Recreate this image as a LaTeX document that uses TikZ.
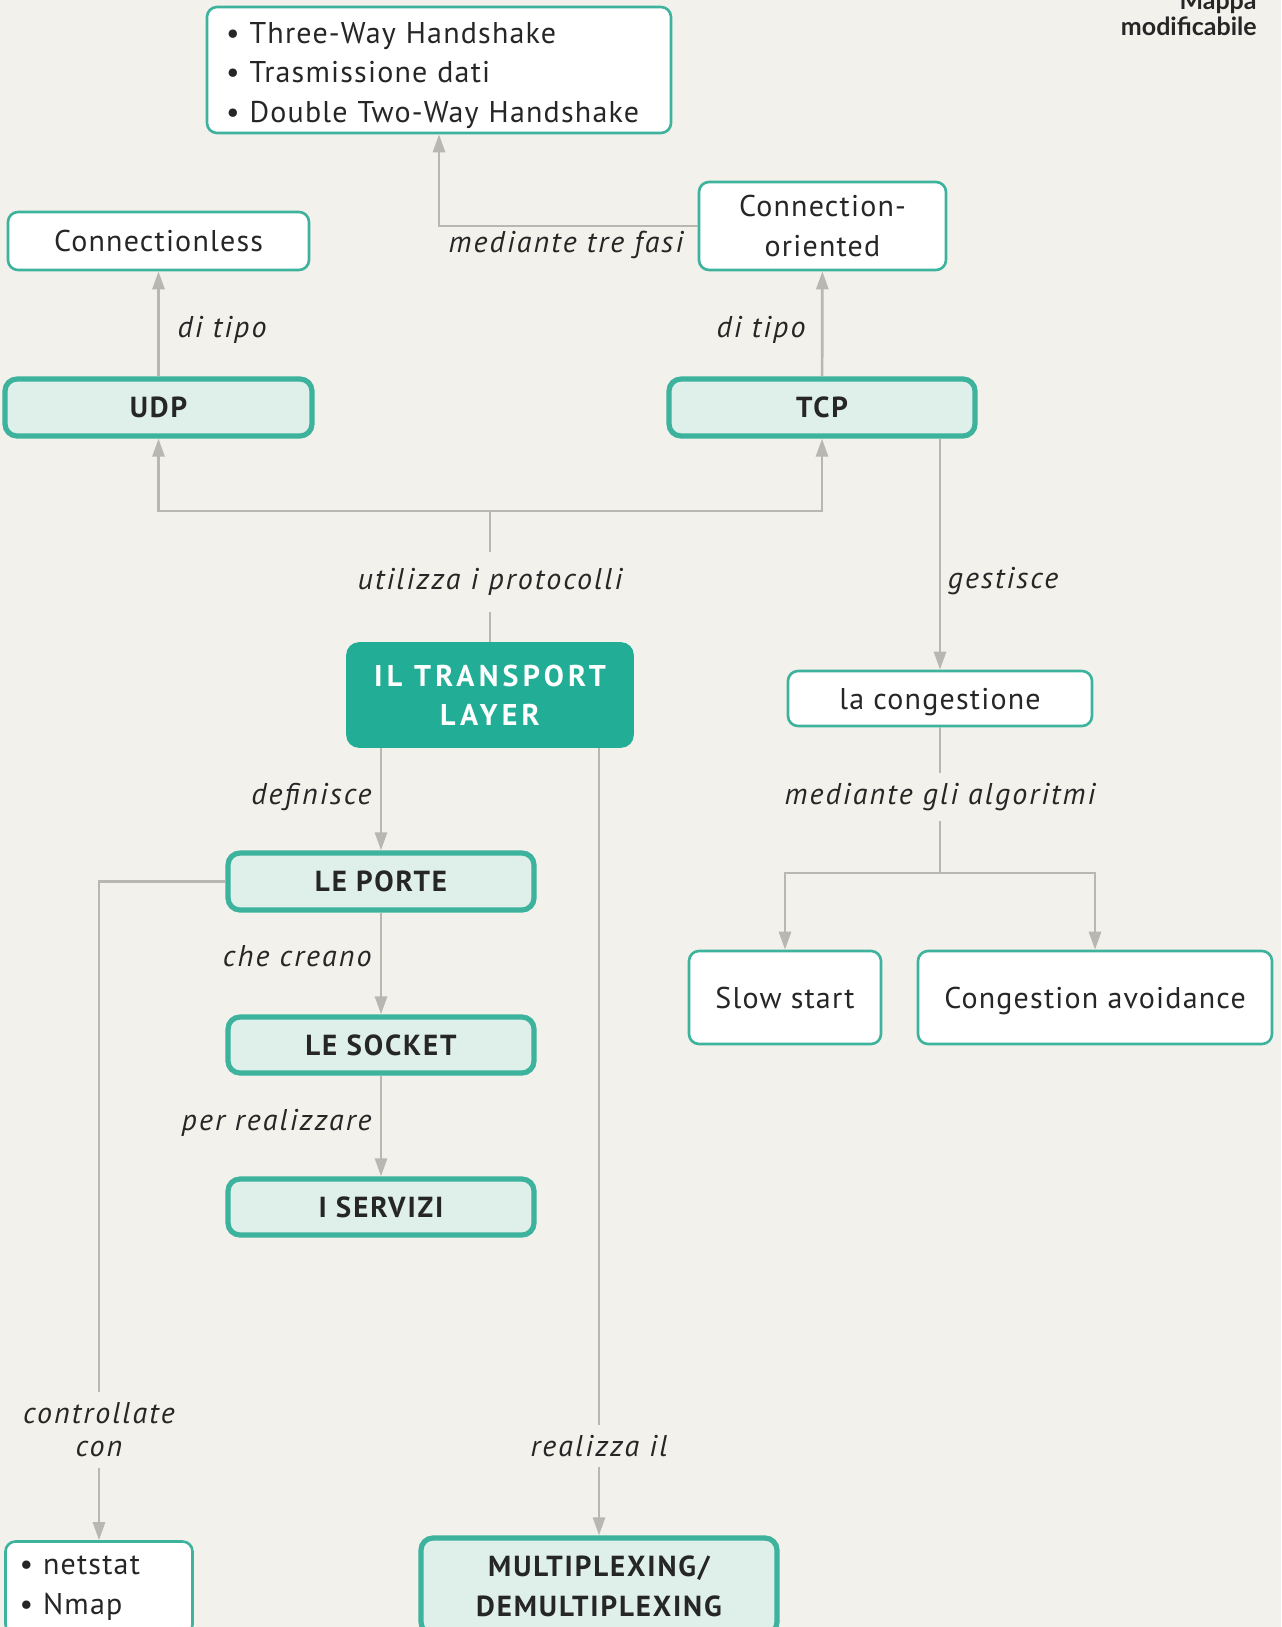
\documentclass[tikz,border=0pt]{standalone}
\usepackage{fontspec}
\setmainfont{PT Sans}[LetterSpace=4]
\newfontfamily\tagfont{Lato}
\usetikzlibrary{arrows.meta}

\definecolor{paper}{HTML}{F2F1EB}
\definecolor{mapteal}{HTML}{3DB39E}
\definecolor{tealfill}{HTML}{22AE96}
\definecolor{mint}{HTML}{DFF0EB}
\definecolor{wire}{HTML}{B8B8B1}
\definecolor{ink}{HTML}{262626}

\begin{document}
\begin{tikzpicture}[x=0.5pt, y=-0.5pt,
  plain/.style={font=\fontsize{15}{19.7}\selectfont, text=ink, draw=mapteal, fill=white, line width=1.3pt, rounded corners=5pt, align=center, inner sep=0pt},
  oneline/.style={text height=10.5pt, text depth=0pt},
  key/.style={font=\fontsize{14.5}{20}\selectfont\bfseries\addfontfeature{LetterSpace=6.5}, text=ink, draw=mapteal, fill=mint, line width=2.6pt, rounded corners=6pt, align=center, inner sep=0pt},
  lbl/.style={font=\fontsize{15}{16.5}\selectfont\itshape\addfontfeature{LetterSpace=7}, text=ink, align=center, inner sep=5pt},
  conn/.style={wire, line width=1.35pt},
  arr/.style={conn, -{Triangle[length=9pt,width=6pt]}}]
\fill[paper] (0,0) rectangle (1281,1627);
\useasboundingbox (0,0) rectangle (1281,1627);

\node[anchor=south east, inner sep=0pt, align=right, text=ink, font=\tagfont\bfseries\fontsize{12.5}{13}\selectfont] (mappa) at (1257,36) {Mappa\\modificabile};

% boxes
\node[plain, minimum width=232pt, minimum height=63pt, inner xsep=9.5pt, text width=213pt, align=left] (fasi) at (439,70) {\rule{0pt}{16pt}\textbullet\ Three-Way Handshake\\\textbullet\ Trasmissione dati\\\textbullet\ Double Two-Way Handshake};
\node[plain, oneline, minimum width=150.5pt, minimum height=29pt] (cless) at (158.5,241) {Connectionless};
\node[plain, minimum width=123.5pt, minimum height=44pt, font=\fontsize{15}{20}\selectfont] (cori) at (822.5,226) {Connection-\\oriented};
\node[key, minimum width=153.5pt, minimum height=28.5pt] (udp) at (158.5,407.5) {UDP};
\node[key, minimum width=153pt, minimum height=28.5pt] (tcp) at (822,407.5) {TCP};
\node[key, minimum width=143pt, minimum height=52pt, fill=tealfill, draw=tealfill, line width=0.8pt, text=white, font=\fontsize{15}{19.7}\selectfont\bfseries\addfontfeature{LetterSpace=14}] (tl) at (490,695) {IL TRANSPORT\\LAYER};
\node[plain, oneline, minimum width=152pt, minimum height=27.5pt] (cong) at (940,698.5) {la congestione};
\node[plain, oneline, minimum width=96pt, minimum height=46.5pt] (slow) at (785,997.5) {Slow start};
\node[plain, oneline, minimum width=177pt, minimum height=46.5pt] (cavoid) at (1095,997.5) {Congestion avoidance};
\node[key, minimum width=153pt, minimum height=28.5pt] (porte) at (381,881.5) {LE PORTE};
\node[key, minimum width=153pt, minimum height=28pt] (socket) at (381,1045) {LE SOCKET};
\node[key, minimum width=153pt, minimum height=28pt] (servizi) at (381,1207) {I SERVIZI};
\node[plain, minimum width=93.5pt, minimum height=46.5pt, inner xsep=7pt, text width=79.5pt, align=left, font=\fontsize{15}{20}\selectfont] (tools) at (99,1588) {\textbullet\ netstat\\\textbullet\ Nmap};
\node[key, minimum width=178pt, minimum height=48pt] (mux) at (599,1586) {MULTIPLEXING/\\DEMULTIPLEXING};

% link labels
\node[lbl] (tre) at (566,245) {mediante tre fasi};
\node[lbl] (tipo1) at (222,330) {di tipo};
\node[lbl] (tipo2) at (761,330) {di tipo};
\node[lbl, inner ysep=8pt] (uso) at (490,582) {utilizza i protocolli};
\node[lbl] (gest) at (1003,581) {gestisce};
\node[lbl, anchor=east] (def) at (382,797) {definisce};
\node[lbl] (algo) at (940,797) {mediante gli algoritmi};
\node[lbl, anchor=east] (crea) at (382,956) {che creano};
\node[lbl, anchor=east] (perr) at (382,1123) {per realizzare};
\node[lbl] (ctrl) at (99,1430) {controllate\\con};
\node[lbl] (real) at (599,1446) {realizza il};

% connectors
\draw[arr] (udp) -- (cless);
\draw[arr] (tcp) -- (cori);
\draw[arr] (cori.west) -| (fasi.south);
\coordinate (fork) at (490,511);
\draw[conn] (tl) -- (uso);
\draw[conn] (uso) -- (fork);
\draw[arr] (fork) -| (udp.south);
\draw[arr] (fork) -| (tcp.south);
\draw[arr] (cong.north |- tcp.south) -- (cong);
\coordinate (split) at (940,873);
\draw[conn] (cong) -- (algo);
\draw[conn] (algo) -- (split);
\draw[arr] (split) -| (slow.north);
\draw[arr] (split) -| (cavoid.north);
\draw[arr] (porte.north |- tl.south) -- (porte);
\draw[arr] (porte) -- (socket);
\draw[arr] (socket) -- (servizi);
\draw[conn] (porte.west) -| (ctrl.north);
\draw[arr] (ctrl) -- (tools);
\draw[conn] (mux.north |- tl.south) -- (real);
\draw[arr] (real) -- (mux);
\end{tikzpicture}
\end{document}
